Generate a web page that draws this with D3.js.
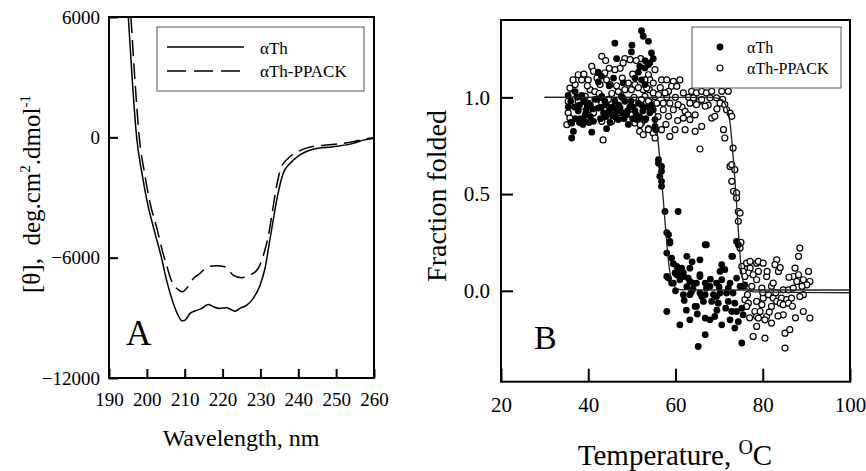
<!DOCTYPE html>
<html>
<head>
<meta charset="utf-8">
<script src="https://cdn.jsdelivr.net/npm/d3@7"></script>
<style>
  body { margin: 0; background: #fff; }
  svg text { font-family: "Liberation Serif"; fill: #000; }
</style>
</head>
<body>
<svg id="chart" width="866" height="471"></svg>
<script>
const serif = '"Liberation Serif"';

// ---- panel A: CD spectra [wavelength nm, theta]
const cdTh = [[195.1,6000],[196.1,3000],[197.3,0],[198.7,-1800],[200.3,-3400],[201.9,-4600],[203.9,-6030],
  [205.2,-7120],[207.0,-8280],[208.2,-8850],[209.3,-9150],[210.1,-9110],[211.4,-8780],[212.7,-8660],
  [214.5,-8530],[216.2,-8330],[217.6,-8450],[219.3,-8530],[221.1,-8500],[223.3,-8670],[224.6,-8530],
  [226.4,-8370],[228.1,-8030],[229.9,-7370],[231.2,-6540],[232.5,-5100],[233.4,-4100],[234.3,-3130],
  [236.0,-1800],[237.8,-1300],[240.4,-880],[243.9,-590],[249.2,-470],[254.5,-300],[257.2,-140],[260,-50]];
const cdPpack = [[195.8,6000],[196.8,3000],[198.0,0],[199.4,-1800],[201.0,-3400],[202.6,-4500],[204.3,-5800],
  [205.2,-6370],[206.4,-7100],[207.5,-7450],[208.5,-7620],[209.4,-7700],[210.5,-7530],[212.3,-7040],
  [214.0,-6790],[216.2,-6450],[218.4,-6400],[220.6,-6450],[222.8,-6870],[225.0,-7000],[227.2,-6870],
  [229.4,-6540],[230.8,-5870],[232.1,-4900],[233.0,-3900],[234.0,-2700],[235.5,-1500],[237.3,-1050],
  [240,-700],[243.5,-470],[249,-360],[254.5,-220],[257.2,-100],[260,-20]];
const ticksAx = [190,200,210,220,230,240,250,260];
const ticksAy = [-12000,-6000,0,6000];

// ---- panel B: thermal denaturation [temperature C, fraction folded]
const thPoints = [
  [52.2,1.345],[52.6,1.316],[53.8,1.29],[46.1,1.28],[49.9,1.235],[46.5,1.20],[54.5,1.23],[54.9,1.20],
  [53.0,1.19],[51.8,1.16],[53.8,1.17],[51.5,1.13],[50.7,1.10],[42.3,1.13],[48.0,1.075],[42.3,1.08],
  [35.4,1.01],[37.0,1.03],[35.4,0.95],[38.5,1.01],[40.0,0.97],[41.5,0.99],[43.1,1.005],[44.2,0.96],
  [37.7,0.93],[39.3,0.91],[37.0,0.89],[42.3,0.945],[41.2,0.876],[45.4,0.91],[47.3,0.945],[48.4,0.98],
  [48.8,0.91],[50.7,0.93],[51.1,0.885],[52.2,0.96],[54.1,0.92],[55.3,0.885],[55.3,0.85],[36.6,0.824],
  [36.2,0.79],[40.8,0.82],[44.2,0.838],[49.2,0.86],[47.6,1.005],[46.9,0.885],[46.1,0.98],[54.1,1.178],
  [53.0,1.152],[52.2,1.09],[53.0,1.066],[38.0,0.87],[39.8,0.95],[40.5,0.90],[43.5,0.92],[45.0,0.87],
  [46.5,0.93],[49.5,0.95],[50.2,0.89],[51.8,0.90],[53.5,0.95],[44.8,1.06],[45.8,1.10],[43.0,1.11],
  [36.0,0.87],[38.8,0.86],[50.0,1.27],
  [36.0,0.98],[36.8,0.95],[37.5,1.0],[38.0,0.96],[39.0,0.98],[39.5,0.93],[40.5,0.96],[41.0,0.94],
  [42.0,0.99],[43.0,0.95],[43.8,0.98],[44.8,0.93],[45.5,0.95],[46.2,0.90],[47.0,0.96],[47.8,0.92],
  [48.2,0.89],[49.0,0.93],[49.8,0.98],[50.3,0.95],[51.0,0.91],[51.5,0.97],[52.5,0.93],[53.2,0.89],
  [54.5,0.96],[38.2,0.89],[39.0,0.88],[40.2,0.87],[42.8,0.89],[44.0,0.90],
  [54.9,0.936],[55.5,0.833],[56.1,0.678],[56.8,0.643],[56.1,0.66],[56.8,0.618],[56.4,0.592],[56.8,0.566],
  [56.8,0.54],[57.6,0.41],[60.6,0.41],[58.4,0.29],[58.7,0.256],[58.0,0.30],[66.8,0.238],
  [58.7,0.247],[58.0,0.195],[67.1,0.238],[59.1,0.169],[62.6,0.178],[65.6,0.16],[60.3,0.126],[61.4,0.117],
  [63.3,0.117],[59.9,0.092],[61.8,0.092],[70.6,0.135],[71.3,0.109],[70.2,0.10],[72.9,0.178],[58.4,0.066],
  [59.5,0.04],[61.0,0.057],[62.9,0.066],[64.1,0.04],[65.6,0.083],[66.8,0.04],[67.9,0.023],[69.4,0.04],
  [70.6,0.057],[72.5,0.04],[72.1,0.014],[74.8,0.023],[75.9,0.031],[61.8,-0.02],[63.3,-0.02],[65.6,-0.012],
  [66.8,-0.02],[68.7,-0.02],[70.2,-0.012],[71.7,-0.012],[73.2,-0.012],[66.4,-0.055],[68.3,-0.055],
  [69.8,-0.064],[72.1,-0.055],[73.6,-0.064],[64.5,-0.081],[75.2,-0.09],[74.0,-0.107],[72.9,-0.107],
  [58.0,-0.107],[66.8,-0.141],[67.9,-0.15],[69.0,-0.133],[63.3,-0.15],[61.0,-0.176],[70.6,-0.176],
  [72.5,-0.15],[73.6,-0.193],[66.8,-0.227],[65.2,-0.288],[75.2,-0.27],[75.5,-0.124],[74.4,-0.16],
  [74.0,0.066],[62.6,0.022],[63.7,-0.004],[64.8,0.04],[67.1,0.014],[69.4,-0.03],[65.6,0.074],[71.0,0.109],
  [64.8,-0.081],[60.6,0.109],[60.3,0.083],[58.0,0.074],[59.1,0.04],[61.8,0.074],[63.3,0.048],[74.0,0.255],
  [74.4,0.238],[73.1,0.178],[75.5,0.023],
  [60.0,0.0],[62.0,-0.05],[64.0,0.01],[66.0,-0.03],[68.0,0.06],[70.0,0.02],[71.5,-0.09],[62.5,-0.10],
  [65.0,-0.12],[69.5,-0.10],[59.5,0.14],[63.8,0.15]];
const ppackPoints = [
  [43.1,1.212],[48.4,1.20],[48.0,1.178],[49.6,1.195],[47.3,1.15],[46.1,1.143],[40.8,1.16],[41.2,1.135],
  [37.7,1.117],[38.5,1.09],[37.0,1.066],[40.0,1.09],[43.8,1.126],[44.2,1.09],[42.7,1.066],[45.0,1.066],
  [35.8,1.048],[36.2,1.014],[37.7,0.98],[35.4,0.98],[39.3,1.005],[40.4,1.04],[41.5,1.03],[45.4,1.02],
  [46.9,1.03],[49.2,1.074],[49.9,1.04],[50.7,1.066],[48.4,1.04],[53.8,1.117],[54.1,1.09],[53.0,1.09],
  [55.3,1.143],[54.9,1.074],[52.6,1.04],[53.0,1.005],[53.8,0.98],[55.3,1.005],[43.1,0.97],[44.6,0.99],
  [45.7,0.945],[47.3,0.92],[40.0,0.936],[38.5,0.954],[41.2,0.92],[35.4,0.92],[35.8,0.893],[35.1,0.859],
  [36.2,0.867],[43.1,0.876],[45.4,0.876],[49.9,0.91],[50.7,0.867],[52.2,0.867],[53.0,0.885],[51.8,0.824],
  [52.6,0.807],[53.8,0.838],[43.4,0.78],[54.9,0.816],
  [36.5,1.09],[39.0,1.12],[42.0,1.10],[44.8,1.15],[46.5,1.06],[47.8,1.10],[50.2,1.12],[51.5,1.05],
  [52.0,1.20],[51.0,1.19],[44.0,1.19],[39.8,1.06],[37.2,0.95],[42.5,1.02],[47.8,1.00],[50.5,1.00],
  [54.0,1.04],[56.0,0.90],[57.8,0.86],[60.5,0.88],[61.5,0.95],[65.5,0.98],[67.5,0.96],[69.5,0.94],
  [70.8,0.99],[63.0,1.00],[60.0,1.00],[56.5,1.05],[58.0,1.00],
  [56.8,1.09],[58.0,1.09],[59.5,1.083],[61.0,1.09],[59.1,1.057],[60.3,1.057],[58.4,1.031],[61.8,1.023],
  [53.4,1.048],[54.9,1.023],[56.1,1.014],[57.6,1.023],[63.7,1.031],[64.8,1.023],[66.0,1.031],[67.1,1.023],
  [68.3,1.031],[70.6,1.031],[72.1,1.031],[64.1,0.997],[66.0,0.988],[67.9,0.997],[69.4,0.997],[70.2,0.97],
  [71.3,0.962],[71.7,0.936],[72.5,0.919],[72.9,0.902],[52.2,0.988],[55.7,0.97],[57.2,0.97],[58.7,0.97],
  [60.6,0.962],[63.3,0.97],[64.8,0.962],[57.2,0.936],[59.5,0.936],[62.2,0.928],[62.9,0.91],[64.5,0.91],
  [66.8,0.954],[58.4,0.902],[61.8,0.893],[63.3,0.885],[51.9,0.859],[53.8,0.833],[56.8,0.833],[59.9,0.833],
  [55.3,0.79],[58.7,0.798],[62.2,0.833],[64.5,0.824],[66.0,0.85],[68.3,0.893],[69.0,0.902],[71.0,0.833],
  [71.3,0.79],[65.6,0.733],[73.2,0.738],[72.5,0.643],[73.6,0.626],
  [72.9,0.652],[72.9,0.566],[73.3,0.514],[74.0,0.506],[74.0,0.48],[74.4,0.41],[74.4,0.359],[74.8,0.402],
  [74.8,0.221],[75.0,0.25],
  [75.2,0.126],[76.3,0.143],[77.1,0.117],[76.7,0.092],[75.5,0.1],[78.6,0.143],[79.0,0.1],[75.9,-0.046],
  [76.7,-0.064],[76.3,-0.081],[78.6,-0.055],[78.2,-0.107],[78.6,-0.133],[78.6,-0.184],[77.8,-0.236],
  [88.5,0.221],[88.2,0.178],[77.1,0.152],[79.0,0.152],[80.1,0.143],[83.2,0.16],[82.8,0.135],[83.6,0.1],
  [77.8,0.083],[78.6,0.057],[80.9,0.074],[75.9,0.074],[87.4,0.117],[87.0,0.074],[88.2,0.083],[89.3,0.057],
  [90.5,0.1],[90.8,0.048],[90.1,0.031],[89.0,0.023],[87.8,0.048],[77.5,0.023],[79.8,0.014],[82.0,0.023],
  [82.4,0.04],[84.7,0.005],[85.9,0.005],[87.0,0.014],[89.3,-0.02],[80.1,-0.038],[81.3,-0.02],[82.4,-0.038],
  [83.2,-0.055],[84.3,-0.038],[85.5,-0.046],[86.6,-0.038],[79.8,-0.072],[82.0,-0.081],[84.0,-0.064],
  [84.7,-0.072],[85.9,-0.064],[79.4,-0.107],[79.0,-0.141],[80.9,-0.133],[80.5,-0.15],[82.0,-0.167],
  [84.7,-0.124],[89.3,-0.107],[90.8,-0.141],[80.5,-0.245],[85.1,-0.219],[86.2,-0.201],[85.1,-0.296],
  [81.0,0.10],[84.0,0.12],[86.0,0.07],[83.0,-0.01],[80.0,-0.01],[88.5,-0.03],[86.8,-0.08],[81.5,-0.11],
  [83.5,-0.13],[87.5,-0.14],[77.0,-0.14],[76.5,-0.02]];
// fitted two-state curves
const thFit = [[30,1.0],[52,1.0],[54.5,0.99],[55.2,0.95],[55.8,0.82],[56.5,0.66],[57.2,0.47],[57.8,0.3],
  [58.4,0.15],[59.0,0.06],[59.8,0.02],[61,0.006],[70,0.004],[100,0.004]];
const ppackFit = [[30,1.0],[68,1.0],[70.5,0.99],[71.5,0.96],[72.3,0.9],[72.9,0.78],[73.4,0.64],[74.0,0.45],
  [74.5,0.28],[75.0,0.13],[75.5,0.05],[76.3,0.012],[78,-0.006],[100,-0.01]];
const ticksBx = [20,40,60,80,100];
const ticksBy = [0,0.5,1.0];

const svg = d3.select('#chart');

// ================= panel A
const xA = d3.scaleLinear().domain([190,260]).range([109,374]);
const yA = d3.scaleLinear().domain([-12000,6000]).range([378,17]);

svg.append('clipPath').attr('id','clipA')
  .append('rect').attr('x',109).attr('y',17).attr('width',265).attr('height',361);

const lineA = d3.line().x(d => xA(d[0])).y(d => yA(d[1])).curve(d3.curveMonotoneX);
const gA = svg.append('g').attr('clip-path','url(#clipA)');
gA.append('path').datum(cdTh).attr('d',lineA)
  .attr('fill','none').attr('stroke','#000').attr('stroke-width',1.5);
gA.append('path').datum(cdPpack).attr('d',lineA)
  .attr('fill','none').attr('stroke','#000').attr('stroke-width',1.5).attr('stroke-dasharray','16,7');

const axAx = svg.append('g').attr('transform',`translate(0,${yA(-12000)})`)
  .call(d3.axisBottom(xA).tickValues(ticksAx).tickSizeInner(-9).tickSizeOuter(0).tickPadding(15));
const axAy = svg.append('g').attr('transform',`translate(${xA(190)},0)`)
  .call(d3.axisLeft(yA).tickValues(ticksAy).tickSizeInner(-9).tickSizeOuter(0).tickPadding(9).tickFormat(d3.format('d')));
[axAx, axAy].forEach(g => {
  g.attr('font-family', serif);
  g.select('.domain').remove();
  g.selectAll('line').attr('stroke-width',2);
  g.selectAll('text').attr('font-size',19);
});

svg.append('rect').attr('x',109).attr('y',17).attr('width',265).attr('height',361)
  .attr('fill','none').attr('stroke','#000').attr('stroke-width',2);

// legend A
svg.append('rect').attr('x',157).attr('y',27).attr('width',207).attr('height',64)
  .attr('fill','#fff').attr('stroke','#555').attr('stroke-width',1);
svg.append('line').attr('x1',167).attr('x2',244).attr('y1',47).attr('y2',47)
  .attr('stroke','#000').attr('stroke-width',1.5);
svg.append('line').attr('x1',167).attr('x2',244).attr('y1',71).attr('y2',71)
  .attr('stroke','#000').attr('stroke-width',1.5).attr('stroke-dasharray','19,8');
svg.append('text').attr('x',260).attr('y',54).attr('font-size',17).text('αTh');
svg.append('text').attr('x',260).attr('y',77).attr('font-size',17).text('αTh-PPACK');

svg.append('text').attr('x',126).attr('y',345).attr('font-size',35).text('A');

svg.append('text').attr('x',241).attr('y',446).attr('text-anchor','middle').attr('font-size',24)
  .text('Wavelength, nm');

const ytA = svg.append('text').attr('transform','translate(40,194) rotate(-90)')
  .attr('text-anchor','middle').attr('font-size',25);
ytA.append('tspan').text('[θ],\u00a0\u00a0deg.cm');
ytA.append('tspan').attr('font-size',15).attr('dy',-10).text('2');
ytA.append('tspan').attr('dy',10).text('.dmol');
ytA.append('tspan').attr('font-size',15).attr('dy',-10).text('-1');

// ================= panel B
const xB = d3.scaleLinear().domain([20,100]).range([501,850]);
const yB = d3.scaleLinear().domain([-0.47,1.4]).range([381.7,20]);

const lineB = d3.line().x(d => xB(d[0])).y(d => yB(d[1])).curve(d3.curveMonotoneX);

svg.append('g').selectAll('circle').data(ppackPoints).join('circle')
  .attr('cx', d => xB(d[0])).attr('cy', d => yB(d[1])).attr('r',3)
  .attr('fill','#fff').attr('stroke','#000').attr('stroke-width',1.2);
svg.append('g').selectAll('circle').data(thPoints).join('circle')
  .attr('cx', d => xB(d[0])).attr('cy', d => yB(d[1])).attr('r',3.4)
  .attr('fill','#000');

[thFit, ppackFit].forEach(f => {
  svg.append('path').datum(f).attr('d',lineB)
    .attr('fill','none').attr('stroke','#222').attr('stroke-width',1.3);
});

const axBx = svg.append('g').attr('transform',`translate(0,${yB(-0.47)})`)
  .call(d3.axisBottom(xB).tickValues(ticksBx).tickSizeInner(-13).tickSizeOuter(0).tickPadding(15));
const axBy = svg.append('g').attr('transform',`translate(${xB(20)},0)`)
  .call(d3.axisLeft(yB).tickValues(ticksBy).tickSizeInner(-12).tickSizeOuter(0).tickPadding(11).tickFormat(d3.format('.1f')));
[axBx, axBy].forEach(g => {
  g.attr('font-family', serif);
  g.select('.domain').remove();
  g.selectAll('line').attr('stroke-width',2);
  g.selectAll('text').attr('font-size',21);
});

svg.append('rect').attr('x',501).attr('y',20).attr('width',349).attr('height',361.7)
  .attr('fill','none').attr('stroke','#000').attr('stroke-width',2);

// legend B
svg.append('rect').attr('x',692).attr('y',27).attr('width',149).attr('height',61)
  .attr('fill','#fff').attr('stroke','#555').attr('stroke-width',1);
svg.append('circle').attr('cx',720).attr('cy',47).attr('r',3.4).attr('fill','#000');
svg.append('circle').attr('cx',720).attr('cy',68).attr('r',3)
  .attr('fill','#fff').attr('stroke','#000').attr('stroke-width',1.2);
svg.append('text').attr('x',747).attr('y',53).attr('font-size',16).text('αTh');
svg.append('text').attr('x',747).attr('y',74).attr('font-size',16).text('αTh-PPACK');

svg.append('text').attr('x',534).attr('y',349).attr('font-size',34).text('B');

const xtB = svg.append('text').attr('x',675).attr('y',465).attr('text-anchor','middle').attr('font-size',29);
xtB.append('tspan').text('Temperature, ');
xtB.append('tspan').attr('font-size',20).attr('dy',-11).text('O');
xtB.append('tspan').attr('dy',11).text('C');

svg.append('text').attr('transform','translate(446,196) rotate(-90)')
  .attr('text-anchor','middle').attr('font-size',28).text('Fraction folded');

svg.selectAll('text').style('font-family', serif);
</script>
</body>
</html>
